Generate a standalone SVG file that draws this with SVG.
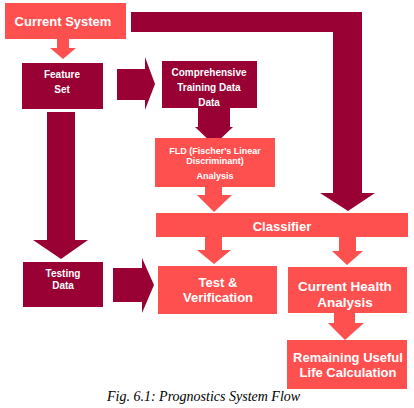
<svg xmlns="http://www.w3.org/2000/svg" width="414" height="408" viewBox="0 0 414 408">
<style>
.dark{fill:#990033}
.light{fill:#FF5050}
text{font-family:"Liberation Sans",Arial,sans-serif;font-weight:bold;fill:#ffffff;text-anchor:middle}
.s{font-size:10px}
.xs{font-size:9px}
.l{font-size:13px}
.cap{font-family:"Liberation Serif","Times New Roman",serif;font-style:italic;font-weight:normal;font-size:14px;fill:#000000;text-anchor:start}
</style>
<rect width="414" height="408" fill="#ffffff"/>
<g id="connectors">
<polygon class="light" points="57,38 69,38 69,48 76,48 63,59 50,48 57,48"/>
<polygon class="dark" points="131,12 362,12 362,193 375,193 348,211 320,193 333,193 333,32 131,32"/>
<polygon class="dark" points="117,69 145,69 145,57 155,84 145,110 145,100 117,100"/>
<polygon class="dark" points="47,112 75,112 75,240 88,240 61,259 33,240 47,240"/>
<polygon class="dark" points="198,108 230,108 230,127 233,127 214,145 195,127 198,127"/>
<polygon class="light" points="205,186 222,186 222,195 232,195 214,212 197,195 205,195"/>
<polygon class="light" points="205,237 222,237 222,250 231,250 214,264 197,250 205,250"/>
<polygon class="light" points="339,237 356,237 356,251 363,251 347,265 332,251 339,251"/>
<polygon class="dark" points="113,268 142,268 142,258 154,285 142,313 142,302 113,302"/>
<polygon class="light" points="334,313 355,313 355,323 364,323 345,340 328,323 334,323"/>
</g>
<g id="current-system">
<rect class="light" x="5" y="3" width="121" height="36"/>
<text class="l" x="63" y="25.5">Current System</text>
</g>
<g id="feature-set">
<rect class="dark" x="22" y="63" width="81" height="46"/>
<text class="s" x="62" y="77.5">Feature</text>
<text class="s" x="62" y="92.5">Set</text>
</g>
<g id="comprehensive">
<rect class="dark" x="162" y="61" width="95" height="47"/>
<text class="s" x="209" y="76">Comprehensive</text>
<text class="s" x="209" y="91">Training Data</text>
<text class="s" x="209" y="105.5">Data</text>
</g>
<g id="fld">
<rect class="light" x="155" y="138" width="120" height="49"/>
<text class="xs" x="215" y="154">FLD (Fischer's Linear</text>
<text class="xs" x="215" y="164">Discriminant)</text>
<text class="xs" x="215" y="179">Analysis</text>
</g>
<g id="classifier">
<rect class="light" x="156" y="213" width="252" height="24"/>
<text class="l" x="282" y="230.5">Classifier</text>
</g>
<g id="testing-data">
<rect class="dark" x="23" y="262" width="80" height="45"/>
<text class="s" x="63" y="276.5">Testing</text>
<text class="s" x="63" y="289">Data</text>
</g>
<g id="test-verification">
<rect class="light" x="158" y="266" width="119" height="48"/>
<text class="l" x="218" y="286.5">Test &amp;</text>
<text class="l" x="218" y="302">Verification</text>
</g>
<g id="current-health">
<rect class="light" x="288" y="267" width="119" height="46"/>
<text class="l" x="345" y="290.5" style="font-size:13.5px">Current Health</text>
<text class="l" x="345" y="306.5" style="font-size:13.5px">Analysis</text>
</g>
<g id="rul">
<rect class="light" x="287" y="340" width="120" height="49"/>
<text class="l" x="348" y="361.5">Remaining Useful</text>
<text class="l" x="348" y="377">Life Calculation</text>
</g>
<text class="cap" x="107" y="401">Fig. 6.1: Prognostics System Flow</text>
</svg>
